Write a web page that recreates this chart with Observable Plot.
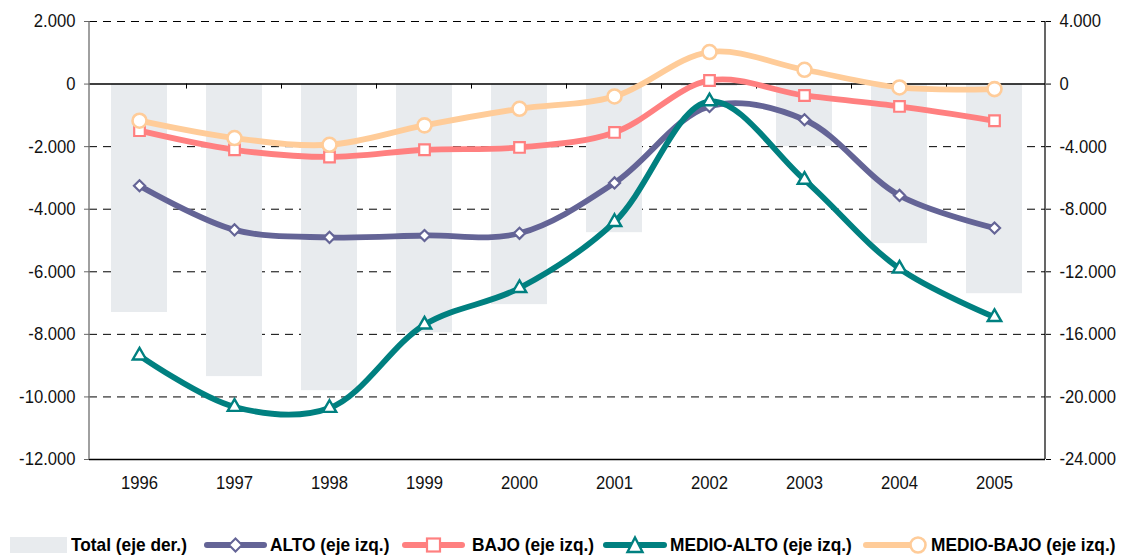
<!DOCTYPE html>
<html>
<head>
<meta charset="utf-8">
<script src="https://cdn.jsdelivr.net/npm/d3@7"></script>
<script src="https://cdn.jsdelivr.net/npm/@observablehq/plot@0.6"></script>
<style>
  html, body { margin: 0; padding: 0; background: #fff; }
  #wrap { width: 1127px; height: 559px; position: relative; font-family: "Liberation Sans", Arial, sans-serif; }
  #legend { position: relative; width: 1127px; height: 44px; }
  .lbl { position: absolute; top: 18px; font-weight: bold; font-size: 19px; line-height: 24px; color: #000; white-space: nowrap; transform: scaleX(0.91); transform-origin: left center; }
  .sw { position: absolute; top: 20px; }
</style>
</head>
<body>
<div id="wrap">
  <div id="chart"></div>
  <div id="legend"></div>
</div>
<script>
// ---- data ----
const years = ["1996","1997","1998","1999","2000","2001","2002","2003","2004","2005"];
const total = [-14600, -18700, -19600, -15900, -14100, -9500, -150, -4000, -10200, -13400]; // right axis
const alto = [-3250, -4660, -4900, -4840, -4770, -3160, -715, -1140, -3560, -4600];
const bajo = [-1490, -2100, -2330, -2100, -2025, -1545, 115, -365, -715, -1173];
const medioAlto = [-8680, -10320, -10355, -7690, -6520, -4410, -555, -3060, -5900, -7450];
const medioBajo = [-1170, -1725, -1940, -1320, -790, -395, 1023, 457, -108, -160];
const leftTicks = [2000, 0, -2000, -4000, -6000, -8000, -10000, -12000];
const gridTicks = [2000, -2000, -4000, -6000, -8000, -10000];

const colors = { total: "#e8ebee", alto: "#646496", bajo: "#ff8080", medioAlto: "#008080", medioBajo: "#ffcc99" };

const rows = years.map((y, i) => ({ year: y, total: total[i], alto: alto[i], bajo: bajo[i], medioAlto: medioAlto[i], medioBajo: medioBajo[i] }));

const locale = d3.formatLocale({ decimal: ",", thousands: ".", grouping: [3], currency: ["", ""], minus: "-" });
const f = locale.format(",d");
const fmt = d => f(d);

function getScales(args) {
  if (args[0] && typeof args[0].x === "function") return args[0];
  return args[1];
}

// category boundary ticks on the zero line + vertical axis lines
const extras = (...args) => {
  const s = getScales(args);
  const x = s.x, y = s.y;
  const g = d3.create("svg:g");
  const bw = x.bandwidth(), st = x.step();
  years.slice(0, -1).forEach(yr => {
    const bx = x(yr) + bw + (st - bw) / 2;
    g.append("line").attr("x1", bx).attr("x2", bx).attr("y1", y(0)).attr("y2", y(0) + 5).attr("stroke", "#000").attr("stroke-width", 1);
  });
  const [x0, x1] = x.range();
  g.append("line").attr("x1", x0).attr("x2", x0).attr("y1", y(2000)).attr("y2", y(-12000)).attr("stroke", "#808080").attr("stroke-width", 1.5);
  g.append("line").attr("x1", x1).attr("x2", x1).attr("y1", y(2000)).attr("y2", y(-12000)).attr("stroke", "#000").attr("stroke-width", 1.2);
  return g.node();
};

const lineMarks = (key, symbol, r, sw) => [
  Plot.line(rows, { x: "year", y: key, stroke: colors[key], strokeWidth: 5.8, curve: "catmull-rom" }),
  Plot.dot(rows, { x: "year", y: key, symbol, r, fill: "white", stroke: colors[key], strokeWidth: sw })
];

const chart = Plot.plot({
  width: 1127,
  height: 515,
  marginLeft: 89,
  marginRight: 82,
  marginTop: 21,
  marginBottom: 56,
  x: { type: "band", domain: years, paddingInner: 0.41, paddingOuter: 0.205, axis: null },
  y: { domain: [-12000, 2000], axis: null },
  style: { fontFamily: "'Liberation Sans', Arial, sans-serif", color: "#000", background: "#fff", overflow: "visible" },
  marks: [
    Plot.ruleY(gridTicks, { stroke: "#000", strokeWidth: 1, strokeDasharray: "8,6" }),
    Plot.barY(rows, { x: "year", y: d => d.total / 2, fill: colors.total }),
    Plot.ruleY([0], { stroke: "#000", strokeWidth: 1.4 }),
    Plot.ruleY([-12000], { stroke: "#000", strokeWidth: 1.4 }),
    extras,
    Plot.axisY({ anchor: "left", ticks: leftTicks, tickFormat: fmt, tickSize: 5, tickPadding: 9, fontSize: 18.5, label: null, stroke: "#666", fill: "#111" }),
    Plot.axisY({ anchor: "right", ticks: leftTicks, tickFormat: d => fmt(d * 2), tickSize: 5, tickPadding: 9, fontSize: 18.5, label: null, stroke: "#000", fill: "#111" }),
    Plot.axisX({ anchor: "bottom", tickSize: 0, tickPadding: 16, fontSize: 18.5, label: null, fill: "#111" }),
    ...lineMarks("alto", "diamond2", 5, 2.2),
    ...lineMarks("bajo", "square", 6, 2.2),
    ...lineMarks("medioAlto", "triangle", 5, 2.4),
    ...lineMarks("medioBajo", "circle", 7, 2.6)
  ]
});
// slightly condensed tick labels (style only)
chart.querySelectorAll('g[aria-label$="tick label"] text').forEach(el => {
  const t = el.getAttribute("transform");
  if (t && /translate/.test(t)) {
    el.setAttribute("transform", t + " scale(0.9,1)");
  } else {
    const x = +el.getAttribute("x") || 0, y = +el.getAttribute("y") || 0;
    el.removeAttribute("x"); el.removeAttribute("y");
    el.setAttribute("transform", `translate(${x},${y}) scale(0.9,1)`);
  }
});
document.getElementById("chart").appendChild(chart);

// ---- legend ----
const legendItems = [
  { key: "total", label: "Total (eje der.)", x: 10, w: 57, text: 71 },
  { key: "alto", label: "ALTO (eje izq.)", x: 204, w: 63, text: 270, sym: "diamond" },
  { key: "bajo", label: "BAJO (eje izq.)", x: 402, w: 63, text: 472, sym: "square" },
  { key: "medioAlto", label: "MEDIO-ALTO (eje izq.)", x: 603, w: 64, text: 670, sym: "triangle" },
  { key: "medioBajo", label: "MEDIO-BAJO (eje izq.)", x: 863, w: 63, text: 931, sym: "circle" }
];
const legend = d3.select("#legend");
legendItems.forEach(it => {
  const svg = legend.append("svg").attr("class", "sw").style("left", (it.x - 4) + "px")
    .attr("width", it.w + 8).attr("height", 20);
  if (it.key === "total") {
    svg.append("rect").attr("x", 4).attr("y", 2).attr("width", it.w).attr("height", 16).attr("fill", colors.total);
  } else {
    const c = colors[it.key];
    svg.append("line").attr("x1", 7).attr("x2", it.w + 1).attr("y1", 10).attr("y2", 10)
      .attr("stroke", c).attr("stroke-width", 6).attr("stroke-linecap", "round");
    const cx = it.sym === "circle" ? it.w - 4 : 4 + it.w / 2;
    if (it.sym === "diamond") {
      svg.append("path").attr("d", `M${cx},3.5L${cx + 6.5},10L${cx},16.5L${cx - 6.5},10Z`).attr("fill", "#fff").attr("stroke", c).attr("stroke-width", 2);
    } else if (it.sym === "square") {
      svg.append("rect").attr("x", cx - 6.5).attr("y", 3.5).attr("width", 13).attr("height", 13).attr("fill", "#fff").attr("stroke", c).attr("stroke-width", 2.2);
    } else if (it.sym === "triangle") {
      svg.append("path").attr("d", `M${cx},2.5L${cx + 7.5},17L${cx - 7.5},17Z`).attr("fill", "#fff").attr("stroke", c).attr("stroke-width", 2.4);
    } else {
      svg.append("circle").attr("cx", cx).attr("cy", 10).attr("r", 7.5).attr("fill", "#fff").attr("stroke", c).attr("stroke-width", 2.6);
    }
  }
  legend.append("div").attr("class", "lbl").style("left", it.text + "px").text(it.label);
});
</script>
</body>
</html>
